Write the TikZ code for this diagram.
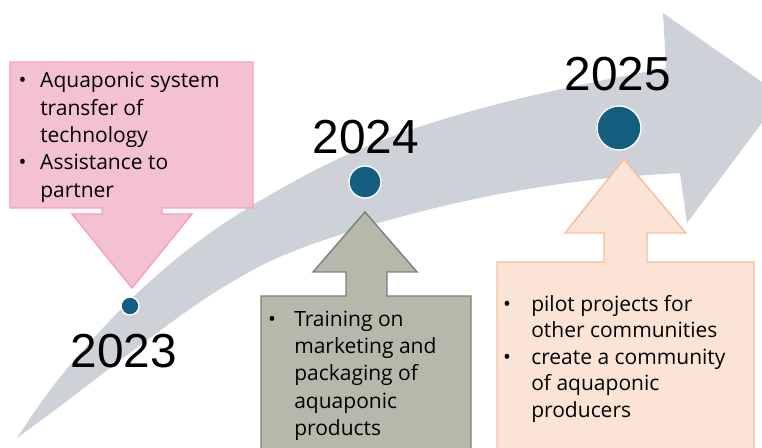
\documentclass[tikz,border=0pt]{standalone}
\usepackage{fontspec}
\setmainfont{Open Sans}
\newfontfamily\yearfont{Liberation Sans}

\definecolor{arrowgrey}{RGB}{205,210,216}
\definecolor{dotblue}{RGB}{22,94,128}
\definecolor{pinkfill}{RGB}{244,193,208}
\definecolor{pinkline}{RGB}{246,160,190}
\definecolor{stonefill}{RGB}{183,184,170}
\definecolor{stoneline}{RGB}{127,127,127}
\definecolor{peachfill}{RGB}{251,227,214}
\definecolor{peachline}{RGB}{244,190,160}

% bullet hung to the left of the text margin
\newcommand\itemdot[1]{\leavevmode\llap{\textbullet\hspace{#1}}}

\begin{document}
\begin{tikzpicture}[x=0.75pt,y=-0.75pt,
  pinkcallout/.style={fill=pinkfill,draw=pinkline,line width=1.1pt,line join=miter},
  stonecallout/.style={fill=stonefill,draw=stoneline,line width=1.1pt,line join=miter},
  peachcallout/.style={fill=peachfill,draw=peachline,line width=1.1pt,line join=miter},
  milestone/.style={circle,fill=dotblue,draw=white,line width=1pt,inner sep=0pt},
  yearlabel/.style={anchor=base,inner sep=0pt,font=\yearfont\fontsize{35.8pt}{40pt}\selectfont},
  listtext/.style={anchor=base west,inner sep=0pt}]
\useasboundingbox (0,0) rectangle (762,448);
\clip (0,0) rectangle (762,448);

% sweeping timeline arrow
\fill[arrowgrey]
  plot[smooth,tension=0.6] coordinates {(17,438) (50,390) (85,348) (125,305) (170,264)
        (220,226) (275,192) (340,158) (410,130) (490,106) (580,85) (666,68)}
  -- (663,13) -- (782,96) -- (687,223) -- (680,173)
  -- plot[smooth,tension=0.6] coordinates {(680,173) (610,178) (540,187) (470,200)
        (400,217) (330,238) (275,259) (230,283) (190,309) (150,338) (110,368) (67,401) (17,438)}
  -- cycle;

% 2023 callout pointing down
\draw[pinkcallout] (10,62) -- (253,62) -- (253,208) -- (162,208) -- (162,214) -- (192,214)
  -- (132,288) -- (72,214) -- (102,214) -- (102,208) -- (10,208) -- cycle;

% 2024 callout pointing up
\draw[stonecallout] (261,470) -- (261,296) -- (346,296) -- (346,272) -- (313,272)
  -- (365,212) -- (417,272) -- (387,272) -- (387,296) -- (471,296) -- (471,470) -- cycle;

% 2025 callout pointing up
\draw[peachcallout] (497,470) -- (497,262) -- (604,262) -- (604,233) -- (565,233)
  -- (624,159) -- (686,233) -- (647,233) -- (647,262) -- (754,262) -- (754,470) -- cycle;

% milestones
\node[milestone,minimum size=13.5pt] (m2023) at (130,306) {};
\node[milestone,minimum size=24pt] (m2024) at (365,182) {};
\node[milestone,minimum size=33pt] (m2025) at (619,128) {};

\node[yearlabel] (y2023) at (124,367) {2023};
\node[yearlabel] (y2024) at (366,154) {2024};
\node[yearlabel] (y2025) at (618,91) {2025};

% callout texts
\node[listtext] (t2023) at (40,88) {\parbox[t]{200pt}{\fontsize{15.75pt}{20.5pt}\selectfont
  \itemdot{10.3pt}Aquaponic system\\ transfer of\\ technology\\
  \itemdot{10.3pt}Assistance to\\ partner}};

\node[listtext] (t2024) at (294,326) {\parbox[t]{150pt}{\fontsize{15.75pt}{20.5pt}\selectfont
  \itemdot{13.7pt}Training on\\ marketing and\\ packaging of\\ aquaponic\\ products}};

\node[listtext] (t2025) at (531,311) {\parbox[t]{180pt}{\fontsize{15.75pt}{19.9pt}\selectfont
  \itemdot{15.2pt}pilot projects for\\ other communities\\
  \itemdot{15.2pt}create a community\\ of aquaponic\\ producers}};
\end{tikzpicture}
\end{document}
